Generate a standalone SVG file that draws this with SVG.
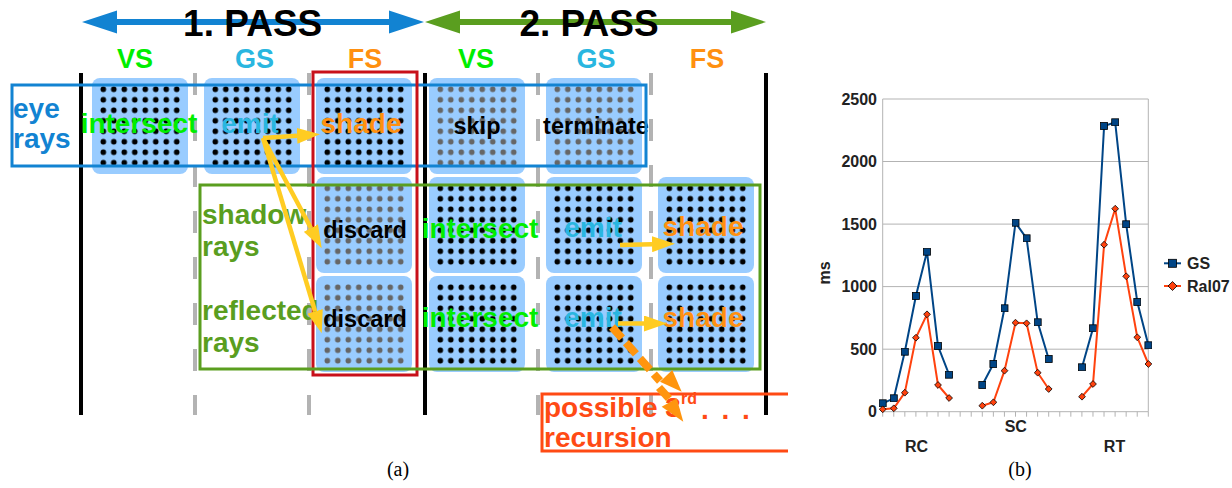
<svg xmlns="http://www.w3.org/2000/svg" width="1232" height="488" viewBox="0 0 1232 488">
<style>
text{font-family:"Liberation Sans",Arial,sans-serif;font-weight:bold}
.title{font-size:37px;fill:#000;text-anchor:middle}
.hdr{font-size:27px;text-anchor:middle}
.lbl{font-size:28px;text-anchor:middle}
.blk{font-size:23.5px;fill:#000;text-anchor:middle}
.side{font-size:28px}
.green{fill:#00ee00}
.cyan{fill:#29b6e0}
.orange{fill:#ff9010}
.cell{fill:#99ccff}
.dk{fill:url(#dotK)}
.dg{fill:url(#dotG)}
.vline{stroke:#000;stroke-width:4}
.dash{stroke:#b3b3b3;stroke-width:4;stroke-dasharray:22 24}
.box{fill:none;stroke-width:3}
.yarrow{stroke:#ffcc22;stroke-width:4.5;fill:none;marker-end:url(#ya)}
.grid{stroke:#b3b3b3;stroke-width:1;fill:none}
.ax{font-size:16px;fill:#222;text-anchor:end}
.cat{font-size:16px;fill:#222;text-anchor:middle}
.leg{font-size:16px;fill:#222}
.cap{font-family:"Liberation Serif","Times New Roman",serif;font-weight:normal;font-size:20px;fill:#000;text-anchor:middle}
</style>
<defs>
<pattern id="dotK" patternUnits="userSpaceOnUse" x="6.055" y="6.055" width="10.49" height="10.49"><circle cx="5.245" cy="5.245" r="2.8" fill="#000"/></pattern>
<pattern id="dotG" patternUnits="userSpaceOnUse" x="6.055" y="6.055" width="10.49" height="10.49"><circle cx="5.245" cy="5.245" r="2.8" fill="#666"/></pattern>
<marker id="ya" markerUnits="userSpaceOnUse" viewBox="0 0 24 16" markerWidth="24" markerHeight="16" refX="0" refY="8" orient="auto"><path d="M0,0 L23,8 L0,16 z" fill="#ffcc22"/></marker>
<marker id="sq" markerUnits="userSpaceOnUse" viewBox="0 0 8 8" markerWidth="8" markerHeight="8" refX="4" refY="4"><rect x="0.5" y="0.5" width="7" height="7" fill="#004586" stroke="#000" stroke-width="0.8"/></marker>
<marker id="dm" markerUnits="userSpaceOnUse" viewBox="0 0 8 8" markerWidth="8" markerHeight="8" refX="4" refY="4"><path d="M4,0.6 L7.4,4 L4,7.4 L0.6,4 z" fill="#ff420e" stroke="#000" stroke-width="0.8"/></marker>
</defs>
<rect width="1232" height="488" fill="#fff"/>

<g id="passes">
<polygon points="82,22 117,10.5 117,19 389,19 389,10.5 424,22 389,33.5 389,25 117,25 117,33.5" fill="#1283d2"/>
<polygon points="425,22 460,10.5 460,19 731,19 731,10.5 766,22 731,33.5 731,25 460,25 460,33.5" fill="#5a9e1f"/>
<text class="title" x="252.7" y="36">1. PASS</text>
<text class="title" x="589" y="36">2. PASS</text>
</g>

<g id="headers">
<text class="hdr green" x="135" y="68.3">VS</text>
<text class="hdr cyan" x="254.5" y="68.3">GS</text>
<text class="hdr orange" x="365" y="68.3">FS</text>
<text class="hdr green" x="476" y="68.3">VS</text>
<text class="hdr cyan" x="596" y="68.3">GS</text>
<text class="hdr orange" x="707" y="68.3">FS</text>
</g>

<g id="separators">
<line class="vline" x1="81" y1="73" x2="81" y2="415"/>
<line class="vline" x1="425" y1="73" x2="425" y2="415"/>
<line class="vline" x1="766" y1="73" x2="766" y2="415"/>
<line class="dash" x1="195" y1="73" x2="195" y2="415"/>
<line class="dash" x1="309" y1="73" x2="309" y2="415"/>
<line class="dash" x1="538" y1="73" x2="538" y2="415"/>
<line class="dash" x1="651" y1="73" x2="651" y2="415"/>
</g>

<g id="cell-r1-vs1" transform="translate(92,78)"><rect class="cell" width="96" height="96" rx="8"/><rect class="dk" x="6.055" y="6.055" width="83.92" height="83.92"/><text class="lbl green" x="47" y="55">intersect</text></g>
<g id="cell-r1-gs1" transform="translate(204,78)"><rect class="cell" width="96" height="96" rx="8"/><rect class="dk" x="6.055" y="6.055" width="83.92" height="83.92"/><text class="lbl cyan" x="46" y="55">emit</text></g>
<g id="cell-r1-fs1" transform="translate(316,78)"><rect class="cell" width="96" height="96" rx="8"/><rect class="dk" x="6.055" y="6.055" width="83.92" height="83.92"/><text class="lbl orange" x="45" y="55">shade</text></g>
<g id="cell-r1-vs2" transform="translate(429,78)"><rect class="cell" width="96" height="96" rx="8"/><rect class="dg" x="6.055" y="6.055" width="83.92" height="83.92"/><text class="blk" x="48" y="56">skip</text></g>
<g id="cell-r1-gs2" transform="translate(546,78)"><rect class="cell" width="96" height="96" rx="8"/><rect class="dg" x="6.055" y="6.055" width="83.92" height="83.92"/><text class="blk" x="50" y="56">terminate</text></g>

<g id="cell-r2-fs1" transform="translate(316,177)"><rect class="cell" width="96" height="96" rx="8"/><rect class="dg" x="6.055" y="6.055" width="83.92" height="83.92"/><text class="blk" x="49" y="61">discard</text></g>
<g id="cell-r2-vs2" transform="translate(429,177)"><rect class="cell" width="96" height="96" rx="8"/><rect class="dk" x="6.055" y="6.055" width="83.92" height="83.92"/><text class="lbl green" x="51" y="61">intersect</text></g>
<g id="cell-r2-gs2" transform="translate(546,177)"><rect class="cell" width="96" height="96" rx="8"/><rect class="dk" x="6.055" y="6.055" width="83.92" height="83.92"/><text class="lbl cyan" x="47" y="60">emit</text></g>
<g id="cell-r2-fs2" transform="translate(658,177)"><rect class="cell" width="96" height="96" rx="8"/><rect class="dk" x="6.055" y="6.055" width="83.92" height="83.92"/><text class="lbl orange" x="45" y="59">shade</text></g>

<g id="cell-r3-fs1" transform="translate(316,276)"><rect class="cell" width="96" height="96" rx="8"/><rect class="dg" x="6.055" y="6.055" width="83.92" height="83.92"/><text class="blk" x="49" y="51">discard</text></g>
<g id="cell-r3-vs2" transform="translate(429,276)"><rect class="cell" width="96" height="96" rx="8"/><rect class="dk" x="6.055" y="6.055" width="83.92" height="83.92"/><text class="lbl green" x="51" y="51">intersect</text></g>
<g id="cell-r3-gs2" transform="translate(546,276)"><rect class="cell" width="96" height="96" rx="8"/><rect class="dk" x="6.055" y="6.055" width="83.92" height="83.92"/><text class="lbl cyan" x="47" y="51">emit</text></g>
<g id="cell-r3-fs2" transform="translate(658,276)"><rect class="cell" width="96" height="96" rx="8"/><rect class="dk" x="6.055" y="6.055" width="83.92" height="83.92"/><text class="lbl orange" x="45" y="51">shade</text></g>

<g id="eye-rays">
<rect class="box" x="12" y="85" width="634" height="81" stroke="#1283d2"/>
<text class="side" fill="#1283d2" x="13" y="118">eye</text>
<text class="side" fill="#1283d2" x="13" y="148">rays</text>
</g>
<g id="pass1-fs">
<rect class="box" x="313" y="72" width="104" height="303" stroke="#c8101a"/>
</g>
<g id="secondary-rays">
<rect class="box" x="200" y="185" width="560" height="184" stroke="#5a9e1f"/>
<text class="side" fill="#5a9e1f" x="202" y="224">shadow</text>
<text class="side" fill="#5a9e1f" x="202" y="256">rays</text>
<text class="side" fill="#5a9e1f" x="202" y="320">reflected</text>
<text class="side" fill="#5a9e1f" x="202" y="352">rays</text>
</g>
<g id="recursion">
<path class="box" d="M788,394 H542 V451 H788" stroke="#ff4a14"/>
<text class="side" fill="#ff4a14" x="544" y="417">possible 3<tspan font-size="16" dy="-13">rd</tspan><tspan x="701" dy="15" word-spacing="5">. . .</tspan></text>
<text class="side" fill="#ff4a14" x="544" y="447">recursion</text>
</g>

<g id="connectors">
<path class="yarrow" d="M263,138 L297,135.8"/>
<path class="yarrow" d="M263,138 L310.9,228"/>
<path class="yarrow" d="M263,138 L315.1,311.3"/>
<path class="yarrow" d="M620,245 L652,244.2"/>
<path class="yarrow" d="M618,323.5 L644,323.5"/>
<g id="recursion-arrow" fill="#ff950e">
<path d="M612,327 L660,381" stroke="#ff950e" stroke-width="8" stroke-dasharray="15 6" fill="none"/>
<polygon points="660,381.7 672.3,370 681.7,391.7"/>
<polygon points="656,390 662,385 672,396 666,401"/>
<polygon points="661.7,406.7 676.7,398.3 683.3,421.7"/>
</g>
</g>

<g id="chart">
<path class="grid" d="M882.7,99 H1148.3 M882.7,161.5 H1148.3 M882.7,224.1 H1148.3 M882.7,286.6 H1148.3 M882.7,349.2 H1148.3 M1148.3,99 V411.7 M882.7,99 V411.7 M882.7,411.7 H1148.3"/>
<path class="grid" d="M882.7,411.7v5 M893.77,411.7v5 M904.83,411.7v5 M915.9,411.7v5 M926.97,411.7v5 M938.03,411.7v5 M949.1,411.7v5 M960.17,411.7v5 M971.23,411.7v5 M982.3,411.7v5 M993.37,411.7v5 M1004.43,411.7v5 M1015.5,411.7v5 M1026.57,411.7v5 M1037.63,411.7v5 M1048.7,411.7v5 M1059.77,411.7v5 M1070.83,411.7v5 M1081.9,411.7v5 M1092.97,411.7v5 M1104.03,411.7v5 M1115.1,411.7v5 M1126.17,411.7v5 M1137.23,411.7v5 M1148.3,411.7v5"/>
<text class="ax" x="877" y="104.5">2500</text>
<text class="ax" x="877" y="167">2000</text>
<text class="ax" x="877" y="229.6">1500</text>
<text class="ax" x="877" y="292.1">1000</text>
<text class="ax" x="877" y="354.7">500</text>
<text class="ax" x="877" y="417.2">0</text>
<text class="cat" transform="translate(830,273) rotate(-90)">ms</text>
<text class="cat" x="916.5" y="451.5">RC</text>
<text class="cat" x="1015.8" y="432.3">SC</text>
<text class="cat" x="1114.5" y="451.5">RT</text>
<g id="series-gs" fill="none" stroke="#004586" stroke-width="2" marker-start="url(#sq)" marker-mid="url(#sq)" marker-end="url(#sq)">
<polyline points="882.7,403.3 893.8,398.3 904.8,351.7 915.9,296 927,251.7 938,346 949.1,374.7"/>
<polyline points="982.3,385 993.4,364 1004.5,308.3 1015.5,222.7 1026.6,238.3 1037.7,322.3 1048.7,359"/>
<polyline points="1082,367.3 1093,328.3 1104.1,126 1115.2,122.3 1126.2,224.3 1137.3,302 1148.4,345.3"/>
</g>
<g id="series-ral07" fill="none" stroke="#ff420e" stroke-width="2" marker-start="url(#dm)" marker-mid="url(#dm)" marker-end="url(#dm)">
<polyline points="882.7,409.3 893.8,408.3 904.8,392.7 915.9,337.7 927,314.3 938,385 949.1,398"/>
<polyline points="982.3,405.7 993.4,402.3 1004.5,370.7 1015.5,322.7 1026.6,323.3 1037.7,372.7 1048.7,389"/>
<polyline points="1082,396.7 1093,384 1104.1,244.7 1115.2,208.7 1126.2,276.3 1137.3,337.3 1148.4,364"/>
</g>
<g id="legend">
<path d="M1164,263.3 H1181" stroke="#004586" stroke-width="2" marker-mid="url(#sq)"/>
<rect x="1168.5" y="259.3" width="8" height="8" fill="#004586" stroke="#000" stroke-width="0.8"/>
<text class="leg" x="1187" y="269">GS</text>
<path d="M1164,286 H1181" stroke="#ff420e" stroke-width="2"/>
<path d="M1172.5,281.5 L1177,286 L1172.5,290.5 L1168,286 z" fill="#ff420e" stroke="#000" stroke-width="0.8"/>
<text class="leg" x="1187" y="292">Ral07</text>
</g>
</g>

<g id="captions">
<text class="cap" x="398" y="476">(a)</text>
<text class="cap" x="1020" y="476">(b)</text>
</g>
</svg>
